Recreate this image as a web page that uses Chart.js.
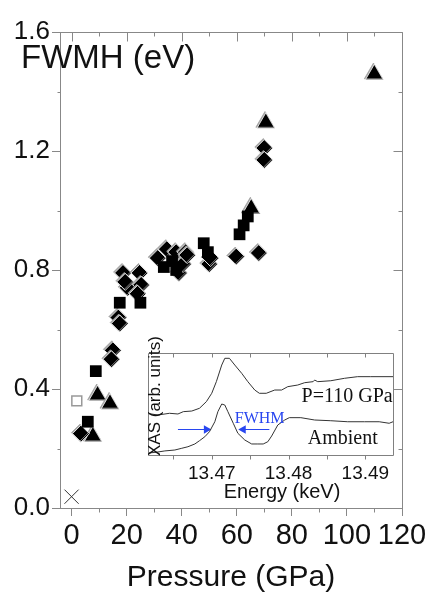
<!DOCTYPE html>
<html>
<head>
<meta charset="utf-8">
<script src="https://cdn.jsdelivr.net/npm/chart.js@4.4.1/dist/chart.umd.min.js"></script>
<style>
  body { margin: 0; background: #fff; }
  #wrap { position: relative; width: 435px; height: 596px; }
  #main { position: absolute; left: 0; top: 0; }
  #inset { position: absolute; left: 130px; top: 335px; }
</style>
</head>
<body>
<div id="wrap">
  <canvas id="main" width="435" height="596"></canvas>
  <canvas id="inset" width="280" height="175"></canvas>
</div>
<script>
// --- main panel: FWHM vs pressure ---
const diamondP = [3.4, 15, 14.5, 17, 17.5, 18.7, 20.4, 19.5, 24.7, 25.3, 24, 31.3, 34.6, 38, 41.5, 39, 40.5, 42, 50, 50.5, 59.8, 68, 70, 70];
const diamondF = [0.25, 0.53, 0.50, 0.64, 0.62, 0.79, 0.74, 0.76, 0.79, 0.75, 0.72, 0.84, 0.87, 0.86, 0.86, 0.79, 0.82, 0.85, 0.82, 0.84, 0.845, 0.857, 1.21, 1.17];

const squareP = [5.9, 8.8, 17.5, 25, 33.5, 36.5, 38, 48, 49.5, 61, 62.5, 64];
const squareF = [0.29, 0.46, 0.69, 0.69, 0.81, 0.83, 0.80, 0.89, 0.86, 0.92, 0.95, 0.98];

const triangleP = [7.8, 9.5, 14, 65.3, 70.6, 110];
const triangleF = [0.24, 0.378, 0.35, 1.006, 1.294, 1.457];

const openP = [1.9];
const openF = [0.36];

const crossP = [0];
const crossF = [0.038];

const pressureTicks = [0, 20, 40, 60, 80, 100, 120];
const pressureMinor = [10, 30, 50, 70, 90, 110];
const fwhmTicks = [0, 0.4, 0.8, 1.2, 1.6];
const fwhmMinor = [0.2, 0.6, 1.0, 1.4];

// --- inset: XAS spectra ---
const energyHi = [13.4617, 13.4630, 13.4645, 13.4656, 13.4663, 13.4674, 13.4684, 13.4693, 13.4700, 13.4706, 13.4713, 13.4717, 13.4723, 13.4730, 13.4739, 13.4747, 13.4756, 13.4762, 13.4771, 13.4782, 13.4791, 13.4799, 13.4812, 13.4821, 13.4832, 13.4834, 13.4838, 13.4855, 13.4873, 13.4890, 13.4907, 13.4936];
const xasHi = [0.407, 0.392, 0.409, 0.402, 0.425, 0.431, 0.458, 0.523, 0.605, 0.719, 0.882, 0.948, 0.948, 0.882, 0.801, 0.719, 0.637, 0.605, 0.605, 0.637, 0.637, 0.670, 0.686, 0.709, 0.719, 0.735, 0.719, 0.728, 0.752, 0.768, 0.768, 0.768];

const energyAmb = [13.4617, 13.4626, 13.4639, 13.4652, 13.4661, 13.4669, 13.4678, 13.4684, 13.4691, 13.4697, 13.4704, 13.4708, 13.4713, 13.4717, 13.4721, 13.4728, 13.4734, 13.4743, 13.4752, 13.4760, 13.4767, 13.4773, 13.4778, 13.4786, 13.4795, 13.4801, 13.4816, 13.4834, 13.4855, 13.4877, 13.4899, 13.4918, 13.4931, 13.4936];
const xasAmb = [0.020, 0.025, 0.040, 0.049, 0.066, 0.081, 0.108, 0.140, 0.179, 0.228, 0.326, 0.425, 0.500, 0.490, 0.425, 0.311, 0.213, 0.147, 0.108, 0.108, 0.108, 0.130, 0.186, 0.294, 0.343, 0.366, 0.366, 0.343, 0.336, 0.326, 0.326, 0.326, 0.311, 0.326];

// FWHM arrows: start energy, arrow-head energy, level
const arrowLeft = [13.4656, 13.4693];
const arrowRight = [13.4775, 13.4741];
const arrowLevel = 0.25;

const energyTicks = [13.465, 13.47, 13.475, 13.48, 13.485, 13.49];
const energyLabels = [13.47, 13.48, 13.49];

const axisGray = '#888';
const ink = '#111';
const blue = '#2846f0';

Chart.defaults.font.family = '"Liberation Sans", Arial, sans-serif';
Chart.defaults.color = ink;

const pts = (xs, ys) => xs.map((v, i) => ({ x: v, y: ys[i] }));

// grey offset outline seen on the filled symbols
const emboss = {
  id: 'emboss',
  beforeDatasetDraw(chart, args) {
    if (!chart.data.datasets[args.index].emboss) return;
    const ctx = chart.ctx;
    ctx.save();
    ctx.shadowColor = '#a0a0a0';
    ctx.shadowOffsetX = -1;
    ctx.shadowOffsetY = -1;
    ctx.shadowBlur = 0;
  },
  afterDatasetDraw(chart, args) {
    if (!chart.data.datasets[args.index].emboss) return;
    chart.ctx.restore();
  }
};

// top/right axis lines, minor ticks, inner title
const frame = {
  id: 'frame',
  afterDraw(chart) {
    const { ctx, chartArea: a, scales: { x, y } } = chart;
    const L = Math.round(a.left) + .5, R = Math.round(a.right) + .5;
    const T = Math.round(a.top) + .5, B = Math.round(a.bottom) + .5;
    ctx.save();
    ctx.strokeStyle = axisGray;
    ctx.lineWidth = 1;
    ctx.beginPath();
    ctx.moveTo(L, T); ctx.lineTo(R, T); ctx.lineTo(R, B);
    pressureTicks.concat(pressureMinor).forEach(v => {
      const px = Math.round(x.getPixelForValue(v)) + .5;
      if (px < L || px > R) return;
      ctx.moveTo(px, T); ctx.lineTo(px, T + (pressureTicks.includes(v) ? 9 : 4));
    });
    pressureMinor.forEach(v => {
      const px = Math.round(x.getPixelForValue(v)) + .5;
      ctx.moveTo(px, B); ctx.lineTo(px, B + 4);
    });
    fwhmMinor.forEach(v => {
      const py = Math.round(y.getPixelForValue(v)) + .5;
      ctx.moveTo(L, py); ctx.lineTo(L - 3, py);
    });
    fwhmTicks.concat(fwhmMinor).forEach(v => {
      const py = Math.round(y.getPixelForValue(v)) + .5;
      ctx.moveTo(R, py); ctx.lineTo(R - (fwhmTicks.includes(v) ? 9 : 4), py);
    });
    ctx.stroke();
    ctx.fillStyle = ink;
    ctx.font = '33px "Liberation Sans"';
    ctx.textBaseline = 'alphabetic';
    ctx.fillText('FWMH (eV)', 21, 68);
    ctx.restore();
  }
};

const filled = { backgroundColor: '#000', borderColor: '#fff', borderWidth: 0.8, emboss: true };

new Chart(document.getElementById('main'), {
  type: 'scatter',
  data: {
    datasets: [
      { data: pts(crossP, crossF), pointStyle: 'crossRot', pointRadius: 10, borderColor: '#333', borderWidth: 1 },
      { data: pts(openP, openF), pointStyle: 'rect', pointRadius: 7, backgroundColor: '#fff', borderColor: '#999', borderWidth: 1.5 },
      { data: pts(squareP, squareF), pointStyle: 'rect', pointRadius: 8.3, backgroundColor: '#000', borderColor: '#000', borderWidth: 0 },
      { data: pts(diamondP, diamondF), pointStyle: 'rectRot', pointRadius: 8.5, ...filled },
      { data: pts(triangleP, triangleF), pointStyle: 'triangle', pointRadius: 10.5, ...filled }
    ]
  },
  options: {
    responsive: false,
    animation: false,
    devicePixelRatio: 1,
    layout: { padding: { top: 32, right: 33, left: 0, bottom: 0 } },
    plugins: { legend: { display: false }, tooltip: { enabled: false } },
    elements: { point: { hoverRadius: 0 } },
    datasets: { scatter: { clip: false } },
    scales: {
      x: {
        type: 'linear', min: -4.2, max: 120,
        afterBuildTicks: s => { s.ticks = pressureTicks.map(v => ({ value: v })); },
        afterFit: s => { s.height = 88; },
        grid: { drawOnChartArea: false, tickLength: 8, color: axisGray },
        border: { color: axisGray },
        ticks: { font: { size: 29 }, padding: 3, maxRotation: 0, autoSkip: false },
        title: { display: true, text: 'Pressure (GPa)', font: { size: 30 }, padding: { top: 0, bottom: 0 } }
      },
      y: {
        min: 0, max: 1.6,
        afterBuildTicks: s => { s.ticks = fwhmTicks.map(v => ({ value: v })); },
        afterFit: s => { s.width = 60; },
        grid: { drawOnChartArea: false, tickLength: 8, color: axisGray },
        border: { color: axisGray },
        ticks: { font: { size: 26 }, padding: 2, callback: v => v.toFixed(1) }
      }
    }
  },
  plugins: [emboss, frame]
});

// inset frame, ticks and annotations
const insetDecor = {
  id: 'insetDecor',
  afterDraw(chart) {
    const { ctx, chartArea: a, scales: { x, y } } = chart;
    const L = Math.round(a.left) + .5, R = Math.round(a.right) + .5;
    const T = Math.round(a.top) + .5, B = Math.round(a.bottom) + .5;
    ctx.save();
    ctx.strokeStyle = '#808080';
    ctx.lineWidth = 1;
    ctx.beginPath();
    ctx.rect(L, T, R - L, B - T);
    energyTicks.forEach(v => {
      const px = Math.round(x.getPixelForValue(v)) + .5;
      ctx.moveTo(px, T); ctx.lineTo(px, T + 4);
      ctx.moveTo(px, B); ctx.lineTo(px, B + 4);
    });
    ctx.stroke();

    ctx.fillStyle = ink;
    ctx.textBaseline = 'alphabetic';
    ctx.textAlign = 'left';
    ctx.font = '20px "Liberation Serif"';
    ctx.fillText('P=110 GPa', x.getPixelForValue(13.4817), y.getPixelForValue(0.517));
    ctx.fillText('Ambient', x.getPixelForValue(13.4825), y.getPixelForValue(0.108));
    ctx.fillStyle = blue;
    ctx.font = '16px "Liberation Serif"';
    ctx.fillText('FWHM', x.getPixelForValue(13.4730), y.getPixelForValue(0.317));

    ctx.fillStyle = ink;
    ctx.textAlign = 'center';
    ctx.font = '20px "Liberation Sans"';
    ctx.fillText('Energy (keV)', a.left + 134, a.bottom + 43);
    ctx.translate(a.left + 7.5, a.top + 43);
    ctx.rotate(-Math.PI / 2);
    ctx.textBaseline = 'middle';
    ctx.font = '17px "Liberation Sans"';
    ctx.fillText('XAS (arb. units)', 0, 0);
    ctx.restore();
  }
};

const curve = { showLine: true, borderColor: '#333', borderWidth: 1, pointRadius: 0, tension: 0 };
const arrow = (xs, rot) => ({
  data: pts(xs, [arrowLevel, arrowLevel]), showLine: true, borderColor: blue, borderWidth: 1,
  pointRadius: [0, 5], pointStyle: 'triangle', pointRotation: [0, rot],
  pointBackgroundColor: blue, pointBorderColor: blue, pointBorderWidth: 0
});

new Chart(document.getElementById('inset'), {
  type: 'scatter',
  data: {
    datasets: [
      { data: pts(energyHi, xasHi), ...curve },
      { data: pts(energyAmb, xasAmb), ...curve },
      arrow(arrowLeft, 90),
      arrow(arrowRight, -90)
    ]
  },
  options: {
    responsive: false,
    animation: false,
    devicePixelRatio: 1,
    layout: { padding: { top: 18, right: 17, left: 0, bottom: 0 } },
    plugins: { legend: { display: false }, tooltip: { enabled: false } },
    elements: { point: { hoverRadius: 0 } },
    scales: {
      x: {
        type: 'linear', min: 13.4617, max: 13.4936,
        afterBuildTicks: s => { s.ticks = energyTicks.map(v => ({ value: v })); },
        afterFit: s => { s.height = 55; },
        grid: { display: false, drawTicks: false },
        border: { display: false },
        ticks: {
          font: { size: 19 }, padding: 7, maxRotation: 0, autoSkip: false,
          callback: v => energyLabels.some(e => Math.abs(e - v) < 1e-6) ? v.toFixed(2) : ''
        }
      },
      y: {
        min: 0, max: 1,
        afterFit: s => { s.width = 18; },
        grid: { display: false, drawTicks: false },
        border: { display: false },
        ticks: { display: false }
      }
    }
  },
  plugins: [insetDecor]
});
</script>
</body>
</html>
